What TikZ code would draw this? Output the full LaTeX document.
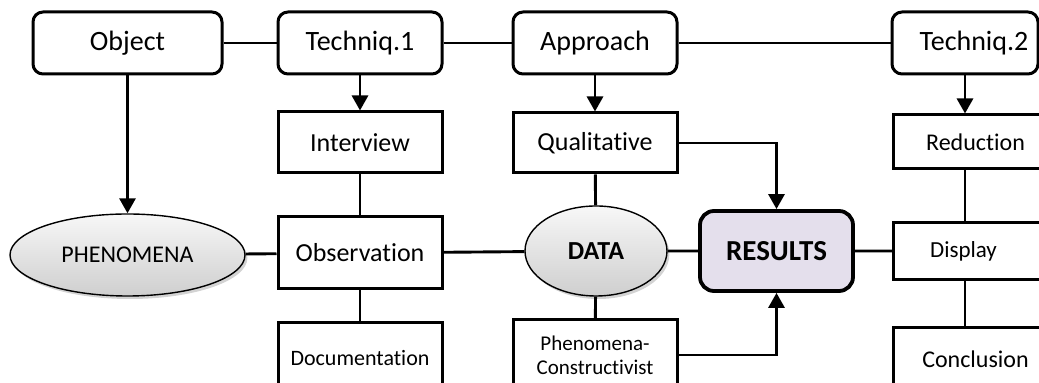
\documentclass[tikz,border=0pt]{standalone}
\usepackage{fontspec}
\setmainfont{Carlito}[Ligatures=CommonOff]
\usetikzlibrary{arrows.meta,shapes.geometric,shadows}
\definecolor{lavend}{RGB}{228,223,236}

\begin{document}
\begin{tikzpicture}[x=0.5pt,y=-0.5pt,line width=1.45pt,
	>={Triangle[length=7.5pt,width=8pt]},
	rbox/.style={draw,rounded corners=5pt,line width=1.5pt,minimum width=82pt,minimum height=31pt,font=\fontsize{14}{16}\selectfont},
	sbox/.style={draw,line width=1.5pt,minimum width=82pt,minimum height=30.5pt,font=\fontsize{13}{15}\selectfont},
	oval/.style={ellipse,draw,line width=0.7pt,top color=gray!6,bottom color=gray!38,
		drop shadow={shadow xshift=1.2pt,shadow yshift=-1.5pt,opacity=0.35}}]
	%\draw[help lines] (0,0) grid[step=50] (1039,383);
	\useasboundingbox (0,0) rectangle (1039,383);
	\clip (0,0) rectangle (1039,383);
	% top row
	\node[rbox,minimum width=94.5pt] (obj) at (127.5,43) {Object};
	\node[rbox] (tech1) at (360,43) {Techniq.1};
	\node[rbox] (appr) at (595,43) {Approach};
	\node[rbox,minimum width=73pt] (tech2) at (965,43) {\hspace*{9pt}Techniq.2};
	% second row
	\node[sbox] (intv) at (360,142.5) {Interview};
	\node[sbox,minimum height=30pt] (qual) at (595,143) {Qualitative};
	\node[sbox,anchor=west,minimum height=27pt,font=\fontsize{12}{14}\selectfont] (red) at (892,142) {Reduction};
	% middle row
	\node[oval,minimum width=117.5pt,minimum height=41pt,font=\fontsize{12}{14}\selectfont] (phen) at (127.5,255) {PHENOMENA};
	\node[sbox,minimum height=36pt] (obs) at (360,253) {Observation};
	\node[oval,minimum width=71pt,minimum height=45pt,font=\fontsize{13}{15}\selectfont\bfseries] (data) at (596,251) {DATA};
	\node[draw,fill=lavend,rounded corners=7pt,line width=1.9pt,minimum width=76.5pt,minimum height=40pt,
		font=\fontsize{14.5}{16}\selectfont\bfseries] (res) at (776.5,251) {RESULTS};
	\node[sbox,anchor=west,minimum height=28.5pt,font=\fontsize{11.5}{14}\selectfont] (disp) at (892,251) {Display\hspace*{12pt}};
	% bottom row
	\node[sbox,minimum height=35pt,font=\fontsize{11}{13}\selectfont] (doc) at (360,358) {Documentation};
	\node[sbox,minimum height=35pt,align=center,font=\fontsize{10.5}{12}\selectfont] (pc) at (595,355) {Phenomena-\\Constructivist};
	\node[sbox,anchor=west,minimum height=31pt,font=\fontsize{12}{14}\selectfont] (conc) at (892,359) {Conclusion};
	% connectors
	\draw (obj) -- (tech1) -- (appr) -- (tech2);
	\draw[->] (obj) -- (phen);
	\draw[->] (tech1) -- (intv);
	\draw (intv) -- (obs) -- (doc);
	\draw[->] (appr) -- (qual);
	\draw (qual) -- (data) -- (pc);
	\draw (phen) -- (obs) -- (data) -- (res) -- (disp);
	\draw[->] (qual) -| (res);
	\draw[->] (pc) -| (res);
	\draw[->] (tech2) -- (tech2 |- red.north);
	\draw (tech2 |- red.south) -- (tech2 |- disp.north);
	\draw (tech2 |- disp.south) -- (tech2 |- conc.north);
\end{tikzpicture}
\end{document}
